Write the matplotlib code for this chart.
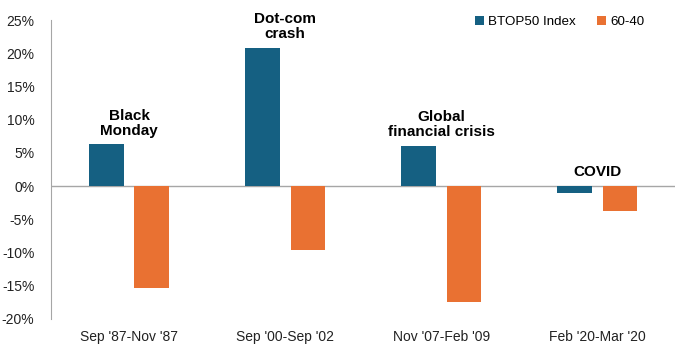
import matplotlib.pyplot as plt
import numpy as np
from matplotlib.ticker import FuncFormatter

plt.rcParams['font.family'] = ['Liberation Sans', 'DejaVu Sans']

periods = ["Sep '87-Nov '87", "Sep '00-Sep '02", "Nov '07-Feb '09", "Feb '20-Mar '20"]
events = ["Black\nMonday", "Dot-com\ncrash", "Global\nfinancial crisis", "COVID"]
btop50 = [6.3, 20.8, 6.1, -1.0]
sixty_forty = [-15.4, -9.6, -17.5, -3.7]

blue = '#156082'
orange = '#E97132'

fig = plt.figure(figsize=(6.8, 3.52), dpi=100)
ax = fig.add_axes([0.075, 0.094, 0.918, 0.849])

x = np.arange(len(periods))
w = 0.22
off = 0.145
ax.bar(x - off, btop50, w, color=blue, label='BTOP50 Index')
ax.bar(x + off, sixty_forty, w, color=orange, label='60-40')

for i, ev in enumerate(events):
    top = max(btop50[i], sixty_forty[i], 0)
    ax.text(x[i], top + 1.0, ev, ha='center', va='bottom', fontsize=11,
            fontweight='bold', linespacing=1.1, multialignment='center')

ax.set_xlim(-0.5, len(periods) - 0.5)
ax.set_ylim(-20, 25)
ax.set_yticks(np.arange(-20, 26, 5))
ax.yaxis.set_major_formatter(FuncFormatter(lambda v, p: f'{v:.0f}%'))
ax.set_xticks(x)
ax.set_xticklabels(periods)
ax.tick_params(axis='both', length=0, labelsize=10, colors='#222222')
ax.tick_params(axis='y', pad=12)
ax.tick_params(axis='x', pad=8)

ax.axhline(0, color='#a6a6a6', lw=1, zorder=0)
for s in ['top', 'right', 'bottom']:
    ax.spines[s].set_visible(False)
ax.spines['left'].set_color('#a6a6a6')

ax.legend(loc='upper right', bbox_to_anchor=(0.97, 1.055), ncol=2, frameon=False,
          fontsize=9.6, handlelength=0.7, handleheight=0.7, handletextpad=0.3,
          columnspacing=1.6)

fig.savefig('out.png', dpi=100)
